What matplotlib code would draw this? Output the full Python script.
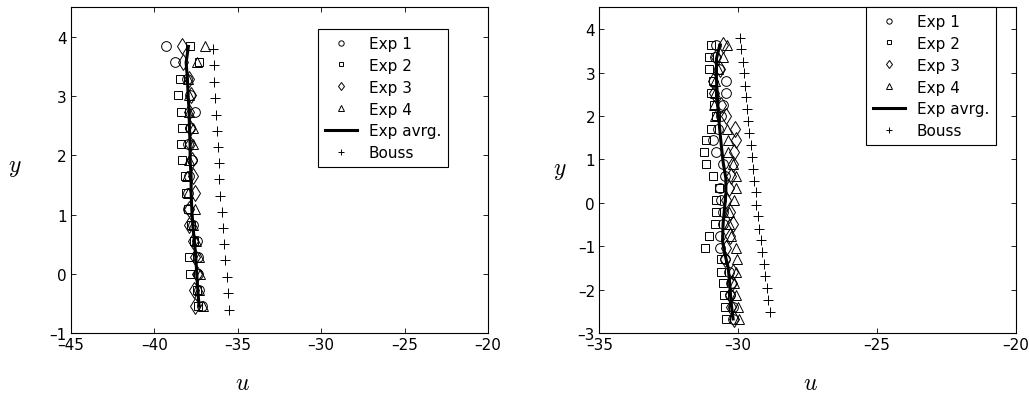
import matplotlib
matplotlib.use('Agg')
import matplotlib.pyplot as plt

plt.rcParams['font.family'] = ['DejaVu Sans']
plt.rcParams['mathtext.fontset'] = 'cm'

# ---- left panel data ----
y_exp_l = [3.84, 3.57, 3.29, 3.02, 2.74, 2.47, 2.19, 1.92, 1.65, 1.37, 1.10,
           0.83, 0.55, 0.28, 0.00, -0.27, -0.54]
exp1_l = [-39.30, -38.76, -38.05, -37.85, -37.56, -37.85, -37.96, -37.76, -37.95,
          -37.98, -38.00, -37.66, -37.46, -37.36, -37.36, -37.32, -37.15]
exp2_l = [-37.84, -37.32, -38.46, -38.56, -38.40, -38.36, -38.40, -38.32, -38.16,
          -38.12, -38.00, -37.80, -37.62, -37.90, -37.86, -37.45, -37.40]
exp3_l = [-38.32, -38.26, -37.90, -37.80, -37.90, -37.85, -37.85, -37.76, -37.66,
          -37.56, -37.95, -37.90, -37.66, -37.56, -37.46, -37.60, -37.56]
exp4_l = [-36.96, -37.46, -37.98, -37.95, -37.92, -37.66, -37.70, -37.90, -38.02,
          -37.98, -37.56, -37.66, -37.50, -37.30, -37.26, -37.30, -37.08]
avg_l = [-37.96, -38.10, -38.02, -37.98, -37.92, -37.90, -37.86, -37.86, -37.80,
         -37.80, -37.76, -37.70, -37.60, -37.52, -37.46, -37.40, -37.32]
y_bouss_l = [3.79, 3.52, 3.24, 2.97, 2.69, 2.42, 2.15, 1.87, 1.60, 1.32, 1.05,
             0.78, 0.50, 0.23, -0.05, -0.32, -0.60]
bouss_l = [-36.50, -36.42, -36.40, -36.34, -36.30, -36.22, -36.16, -36.14, -36.10,
           -36.06, -35.96, -35.86, -35.80, -35.74, -35.66, -35.60, -35.50]

# ---- right panel data ----
y_exp_r = [3.63, 3.36, 3.08, 2.81, 2.53, 2.26, 1.99, 1.71, 1.44, 1.16, 0.89, 0.62,
           0.34, 0.07, -0.21, -0.48, -0.75, -1.03, -1.30, -1.58, -1.85, -2.12, -2.40, -2.67]
exp1_r = [-30.80, -30.84, -30.70, -30.44, -30.44, -30.56, -30.60, -30.72, -30.92, -30.80,
          -30.56, -30.48, -30.64, -30.62, -30.54, -30.54, -30.66, -30.66, -30.48, -30.32,
          -30.24, -30.30, -30.18, -30.18]
exp2_r = [-30.99, -31.05, -31.05, -30.92, -30.96, -30.86, -30.78, -30.98, -31.17, -31.22,
          -31.16, -30.90, -30.68, -30.80, -30.78, -30.83, -31.05, -31.19, -30.60, -30.60,
          -30.56, -30.50, -30.48, -30.42]
exp3_r = [-30.55, -30.80, -30.66, -30.90, -30.88, -30.62, -30.44, -30.12, -30.06, -30.14,
          -30.20, -30.27, -30.32, -30.44, -30.30, -30.20, -30.30, -30.44, -30.46, -30.20,
          -30.22, -30.28, -30.24, -30.14]
exp4_r = [-30.40, -30.56, -30.72, -30.84, -30.84, -30.87, -30.84, -30.39, -30.36, -30.36,
          -30.18, -30.06, -30.06, -30.15, -30.32, -30.32, -30.26, -30.08, -30.03, -30.06,
          -30.14, -30.06, -30.00, -29.98]
y_avg_r = [3.63, 3.32, 2.86, 2.09, 1.48, 0.94, 0.56, 0.21, -0.48, -0.87, -1.17,
           -1.48, -1.86, -2.25, -2.67]
avg_r = [-30.66, -30.78, -30.78, -30.72, -30.63, -30.54, -30.44, -30.44, -30.54,
         -30.56, -30.48, -30.36, -30.30, -30.26, -30.18]
y_bouss_r = [3.80, 3.53, 3.25, 2.98, 2.70, 2.43, 2.16, 1.88, 1.61, 1.33, 1.06, 0.79,
             0.51, 0.24, -0.04, -0.31, -0.59, -0.86, -1.13, -1.41, -1.68, -1.95, -2.23, -2.50]
bouss_r = [-29.94, -29.88, -29.84, -29.80, -29.75, -29.71, -29.68, -29.64, -29.60, -29.55,
           -29.51, -29.46, -29.41, -29.37, -29.34, -29.29, -29.24, -29.18, -29.13, -29.07,
           -29.02, -28.97, -28.93, -28.86]

labels = ['Exp 1', 'Exp 2', 'Exp 3', 'Exp 4', 'Exp avrg.', 'Bouss']

fig = plt.figure(figsize=(10.29, 4.02), dpi=100)
ax1 = fig.add_axes([0.0690, 0.1684, 0.4053, 0.8109])
ax2 = fig.add_axes([0.5824, 0.1684, 0.4047, 0.8109])


def draw(ax, y_exp, e1, e2, e3, e4, y_avg, avg, y_b, b):
    mk = dict(ls='none', color='k', mfc='none', mew=0.7)
    ax.plot(e1, y_exp, marker='o', ms=7, **mk)
    ax.plot(e2, y_exp, marker='s', ms=5.5, **mk)
    ax.plot(e3, y_exp, marker='d', ms=8, **mk)
    ax.plot(e4, y_exp, marker='^', ms=7.5, **mk)
    ax.plot(avg, y_avg, color='k', lw=2.2)
    ax.plot(b, y_b, ls='none', marker='+', ms=7, color='k', mew=0.7)


draw(ax1, y_exp_l, exp1_l, exp2_l, exp3_l, exp4_l, y_exp_l, avg_l, y_bouss_l, bouss_l)
draw(ax2, y_exp_r, exp1_r, exp2_r, exp3_r, exp4_r, y_avg_r, avg_r, y_bouss_r, bouss_r)

ax1.set_xlim(-45, -20)
ax1.set_ylim(-1, 4.5)
ax1.set_xticks([-45, -40, -35, -30, -25, -20])
ax1.set_yticks([-1, 0, 1, 2, 3, 4])
ax2.set_xlim(-35, -20)
ax2.set_ylim(-3, 4.5)
ax2.set_xticks([-35, -30, -25, -20])
ax2.set_yticks([-3, -2, -1, 0, 1, 2, 3, 4])

for ax in (ax1, ax2):
    ax.tick_params(direction='in', length=3.5, width=0.6, labelsize=11,
                   top=True, right=True, pad=3)
    for s in ax.spines.values():
        s.set_linewidth(0.8)
    # en dash as minus sign, like the original export
    ax.set_xticklabels([str(t).replace('-', '\u2013') for t in ax.get_xticks().astype(int)])
    ax.set_yticklabels([str(t).replace('-', '\u2013') for t in ax.get_yticks().astype(int)])
    ax.set_xlabel(r'$u$', fontsize=17, va='center')
    ax.set_ylabel(r'$y$', fontsize=17, rotation=0, va='center', ha='center')

ax1.xaxis.set_label_coords(0.412, -0.149)
ax1.yaxis.set_label_coords(-0.134, 0.513)
ax2.xaxis.set_label_coords(0.508, -0.149)
ax2.yaxis.set_label_coords(-0.094, 0.504)

for ax, anchor in ((ax1, (448 / 1029, 1 - 30 / 402)), (ax2, (996 / 1029, 1 - 8 / 402))):
    leg = ax.legend(labels, loc='upper right', bbox_to_anchor=anchor,
                    bbox_transform=fig.transFigure, fontsize=11, frameon=True,
                    fancybox=False, edgecolor='k', framealpha=1, markerscale=0.55,
                    handlelength=2.1, handletextpad=0.75, labelspacing=0.45,
                    borderpad=0.45, borderaxespad=0)
    leg.get_frame().set_linewidth(0.8)

fig.savefig('out.png', dpi=100)
